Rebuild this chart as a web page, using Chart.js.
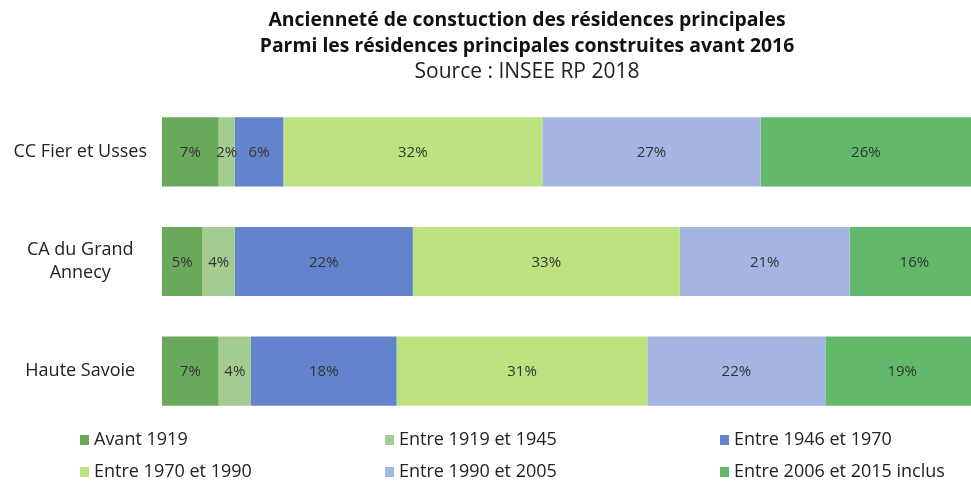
<!DOCTYPE html>
<html>
<head>
<meta charset="utf-8">
<script src="https://cdn.jsdelivr.net/npm/chart.js@4"></script>
<style>
  html, body { margin: 0; padding: 0; background: #fff; }
  #wrap { width: 971px; height: 482px; }
</style>
</head>
<body>
<div id="wrap"><canvas id="ancChart" width="971" height="482"></canvas></div>
<script>
const territories = ['CC Fier et Usses', ['CA du Grand', 'Annecy'], 'Haute Savoie'];
const periods = ['Avant 1919', 'Entre 1919 et 1945', 'Entre 1946 et 1970',
  'Entre 1970 et 1990', 'Entre 1990 et 2005', 'Entre 2006 et 2015 inclus'];

// part (%) par période, dans l'ordre des territoires
const avant1919 = [7, 5, 7];
const de1919a1945 = [2, 4, 4];
const de1946a1970 = [6, 22, 18];
const de1970a1990 = [32, 33, 31];
const de1990a2005 = [27, 21, 22];
const de2006a2015 = [26, 16, 19];

const titleLines = ['Ancienneté de constuction des résidences principales',
  'Parmi les résidences principales construites avant 2016'];
const sourceLine = 'Source : INSEE RP 2018';

const colors = ['#6aa95c', '#a4cc91', '#6384cc', '#bde27f', '#a3b5e0', '#62b96b'];
const series = [avant1919, de1919a1945, de1946a1970, de1970a1990, de1990a2005, de2006a2015];

const FONT = "'Open Sans', sans-serif";

// titre dessiné à la main : dans l'original il est décalé vers la droite
const headerText = {
  id: 'headerText',
  afterDraw(chart) {
    const ctx = chart.ctx;
    const cx = 527;
    ctx.save();
    ctx.textAlign = 'center';
    ctx.textBaseline = 'middle';
    ctx.fillStyle = '#111';
    ctx.font = 'bold 19.4px ' + FONT;
    ctx.fillText(titleLines[0], cx, 20);
    ctx.fillText(titleLines[1], cx, 46);
    ctx.fillStyle = '#222';
    ctx.font = '21px ' + FONT;
    ctx.fillText(sourceLine, cx, 72);
    ctx.restore();
  }
};

// valeurs au centre des segments
const barLabels = {
  id: 'barLabels',
  afterDatasetsDraw(chart) {
    const ctx = chart.ctx;
    ctx.save();
    ctx.font = '15px ' + FONT;
    ctx.fillStyle = '#333';
    ctx.textAlign = 'center';
    ctx.textBaseline = 'middle';
    chart.data.datasets.forEach((ds, i) => {
      chart.getDatasetMeta(i).data.forEach((bar, j) => {
        ctx.fillText(ds.data[j] + '%', (bar.x + bar.base) / 2, bar.y + 1);
      });
    });
    ctx.restore();
  }
};

// légende en 3 colonnes
const gridLegend = {
  id: 'gridLegend',
  afterDraw(chart) {
    const ctx = chart.ctx;
    const cols = [80, 385, 720];
    const rows = [440, 472];
    ctx.save();
    ctx.font = '18px ' + FONT;
    ctx.textBaseline = 'middle';
    chart.data.datasets.forEach((ds, i) => {
      const x = cols[i % 3];
      const y = rows[Math.floor(i / 3)];
      ctx.fillStyle = ds.backgroundColor;
      ctx.fillRect(x, y - 5, 9, 10);
      ctx.fillStyle = '#222';
      ctx.fillText(ds.label, x + 14, y);
    });
    ctx.restore();
  }
};

new Chart(document.getElementById('ancChart'), {
  type: 'bar',
  data: {
    labels: territories,
    datasets: periods.map((p, i) => ({
      label: p,
      data: series[i],
      backgroundColor: colors[i],
      borderWidth: 0
    }))
  },
  options: {
    indexAxis: 'y',
    responsive: false,
    animation: false,
    categoryPercentage: 1,
    barPercentage: 0.63,
    layout: { padding: { top: 97, bottom: 56, left: 6, right: 0 } },
    scales: {
      x: { stacked: true, min: 0, max: 100, display: false },
      y: {
        stacked: true,
        grid: { display: false, drawTicks: false },
        border: { display: false },
        ticks: {
          crossAlign: 'center',
          padding: 15,
          color: '#222',
          font: { family: FONT, size: 18, lineHeight: 1.3 }
        },
        afterFit: (scale) => { scale.width = 156; }
      }
    },
    plugins: {
      legend: { display: false },
      tooltip: { enabled: false },
      title: { display: false }
    }
  },
  plugins: [headerText, barLabels, gridLegend]
});
</script>
</body>
</html>
